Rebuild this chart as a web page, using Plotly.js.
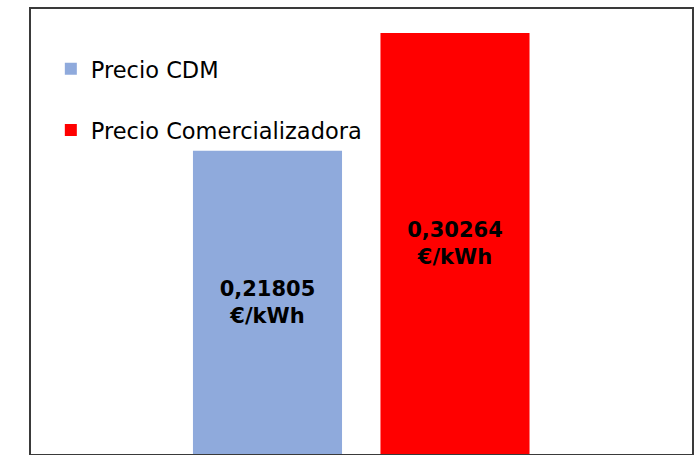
<!DOCTYPE html>
<html>
<head>
<meta charset="utf-8">
<script src="https://cdn.plot.ly/plotly-3.0.1.min.js"></script>
<style>html,body{margin:0;padding:0;background:#fff;}#chart{width:697px;height:455px;}</style>
</head>
<body>
<div id="chart"></div>
<script>
const seriesNames = ["Precio CDM", "Precio Comercializadora"];
const seriesValues = [0.21805, 0.30264];
const valueLabels = ["0,21805<br>€/kWh", "0,30264<br>€/kWh"];
const seriesColors = ["#8FAADC", "#FF0000"];

const traces = seriesNames.map((name, i) => ({
  type: "bar",
  name: name,
  x: [name],
  y: [seriesValues[i]],
  text: [valueLabels[i]],
  textposition: "inside",
  insidetextanchor: "middle",
  textangle: 0,
  textfont: {family: "'DejaVu Sans', sans-serif", size: 21, color: "#000", weight: "bold"},
  marker: {color: seriesColors[i], line: {width: 0}},
  width: 0.795,
  legendgroup: "g" + i,
  hoverinfo: "skip"
}));

const layout = {
  width: 697, height: 455,
  margin: {l: 31, r: 5, t: 9, b: 1},
  paper_bgcolor: "#fff", plot_bgcolor: "#fff",
  barmode: "overlay",
  showlegend: true,
  legend: {
    x: 0.03, y: 0.913, xanchor: "left", yanchor: "top",
    font: {family: "'DejaVu Sans', sans-serif", size: 22.5, color: "#000"},
    traceorder: "grouped", tracegroupgap: 29,
    bgcolor: "rgba(0,0,0,0)"
  },
  xaxis: {
    type: "category", range: [-1.2613, 2.264],
    showticklabels: false, ticks: "", showgrid: false, zeroline: false,
    showline: true, mirror: true, linecolor: "#3a3a3a", linewidth: 2, fixedrange: true
  },
  yaxis: {
    range: [0, 0.3199],
    showticklabels: false, ticks: "", showgrid: false, zeroline: false,
    showline: true, mirror: true, linecolor: "#3a3a3a", linewidth: 2, fixedrange: true
  }
};

Plotly.newPlot("chart", traces, layout, {displayModeBar: false, staticPlot: true});
</script>
</body>
</html>
